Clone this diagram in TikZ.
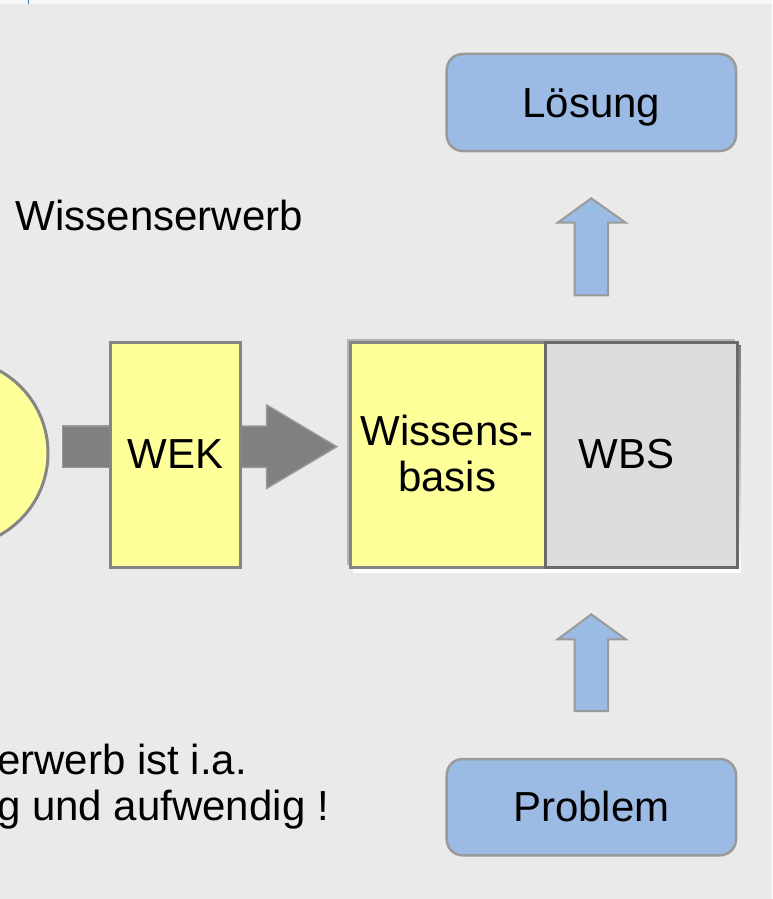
\documentclass[tikz,border=0pt]{standalone}
\usepackage{fontspec}
\setmainfont{Liberation Sans}
\definecolor{bgray}{HTML}{EAEAEA}
\definecolor{topstrip}{HTML}{F7F7F7}
\definecolor{ylw}{HTML}{FFFF99}
\definecolor{blu}{HTML}{9BBBE5}
\definecolor{edgegray}{HTML}{858585}
\definecolor{darkedge}{HTML}{6A6A6A}
\definecolor{arrgray}{HTML}{808080}
\definecolor{arredge}{HTML}{989898}
\definecolor{bluedge}{HTML}{9A9A9A}
\definecolor{hilite}{HTML}{B4B4B4}
\definecolor{shade}{HTML}{555555}
\definecolor{wbsfill}{HTML}{DDDDDD}
\definecolor{markblue}{HTML}{4472C4}
\tikzset{
  lbl/.style={inner sep=0pt, anchor=base, font=\fontsize{42}{46}\selectfont},
  ybox/.style={draw=edgegray, fill=ylw, line width=3pt},
  bbox/.style={draw=bluedge, fill=blu, line width=2.5pt, rounded corners=16pt},
  garrow/.style={fill=arrgray, draw=arredge, line width=1.5pt},
  barrow/.style={fill=blu, draw=bluedge, line width=2pt},
}
\begin{document}
\begin{tikzpicture}[x=1pt,y=-1pt]
\useasboundingbox (0,0) rectangle (772,899);
\clip (0,0) rectangle (772,899);
% background
\fill[bgray] (0,4) rectangle (772,899);
\fill[topstrip] (0,0) rectangle (772,4);
\draw[markblue, line width=1pt] (28.5,0) -- (28.5,4);

% left ellipse (cut off)
\node[circle, minimum size=188pt, inner sep=0pt, fill=ylw, draw=edgegray, line width=3pt] (src) at (-46,453) {};

% gray block arrows
\draw[garrow] (62.3,426) rectangle (112,467.3);
\draw[garrow] (238,426) -- (266.7,426) -- (266.7,405) -- (336.7,446.7) -- (266.7,488.3) -- (266.7,467.3) -- (238,467.3) -- cycle;

% WEK box
\draw[ybox] (110,342) rectangle (240.7,567.7);
\node[lbl] (wek) at (175.3,468.3) {WEK};

% knowledge base + WBS with shading
\fill[hilite] (346.5,338.5) rectangle (734.5,565);
\fill[shade] (353,345) rectangle (740.5,572);
\draw[ybox] (350,342) rectangle (545,567.3);
\draw[draw=darkedge, fill=wbsfill, line width=3pt] (545,342) rectangle (737,567.3);
\node[lbl] (wb1) at (447.2,445) {Wissens-};
\node[lbl] (wb2) at (447.2,491.7) {basis};
\node[lbl] (wbs) at (626.3,468.3) {WBS};

% Loesung / Problem
\draw[bbox] (446.7,54) rectangle (736,151);
\node[lbl] (loes) at (591.3,117.7) {Lösung};
\draw[bbox] (446.7,759) rectangle (736,855.3);
\node[lbl] (prob) at (591.3,821.7) {Problem};

% blue block arrows
\draw[barrow] (574.7,295.3) -- (574.7,222.7) -- (557.7,222.7) -- (591.3,198.3) -- (625.7,222.7) -- (608,222.7) -- (608,295.3) -- cycle;
\draw[barrow] (574.7,711) -- (574.7,639.3) -- (557.7,639.3) -- (591.3,614.3) -- (625.7,639.3) -- (608,639.3) -- (608,711) -- cycle;

% texts
\node[lbl, anchor=base west] (we) at (15.5,230) {Wissenserwerb};
\node[lbl, anchor=base east] (n1) at (247,774.3) {erwerb ist i.a.};
\node[lbl, anchor=base east] (n2) at (329,820) {g und aufwendig !};
\end{tikzpicture}
\end{document}
